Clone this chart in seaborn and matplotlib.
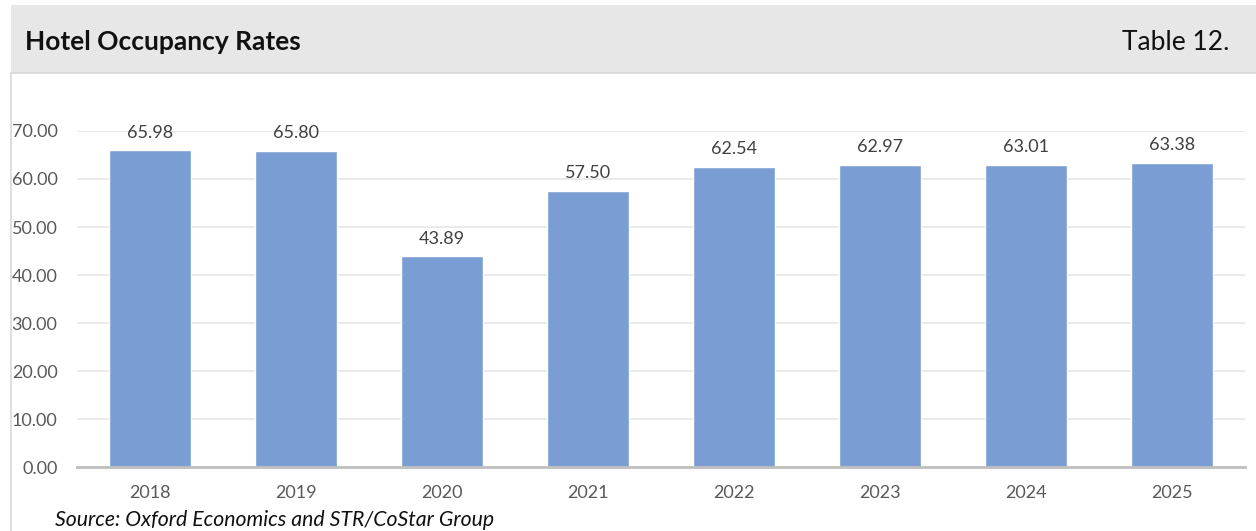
import matplotlib
matplotlib.use("Agg")
import matplotlib.pyplot as plt
from matplotlib.patches import Rectangle
from matplotlib.lines import Line2D
import seaborn as sns
import pandas as pd

years = ["2018", "2019", "2020", "2021", "2022", "2023", "2024", "2025"]
occupancy = [65.98, 65.80, 43.89, 57.50, 62.54, 62.97, 63.01, 63.38]
y_ticks = [0, 10, 20, 30, 40, 50, 60, 70]

sns.set_theme(style="white")
plt.rcParams["font.family"] = ["Lato", "DejaVu Sans"]

W, H = 1256, 531
fig = plt.figure(figsize=(W / 100, H / 100), dpi=100)
fig.patch.set_facecolor("white")

# header band and panel border
fig.patches.append(Rectangle((11 / W, 1 - 73 / H), 1 - 11 / W, 68 / H,
                             transform=fig.transFigure, facecolor="#e7e7e7",
                             edgecolor="none", zorder=0))
fig.lines.append(Line2D([11 / W, 11 / W], [0, 1 - 73 / H], transform=fig.transFigure,
                        color="#d9d9d9", lw=1.2))
fig.lines.append(Line2D([11 / W, 1], [1 - 73 / H, 1 - 73 / H], transform=fig.transFigure,
                        color="#d9d9d9", lw=1.2))

fig.text(25 / W, 1 - 42 / H, "Hotel Occupancy Rates", fontsize=19, fontweight="bold",
         color="#111111", va="center", ha="left")
fig.text(1229 / W, 1 - 42 / H, "Table 12.", fontsize=19, color="#111111",
         va="center", ha="right")

ax = fig.add_axes([77 / W, (H - 467) / H, (1245 - 77) / W, (467 - 131) / H])
df = pd.DataFrame({"year": years, "rate": occupancy})
sns.barplot(data=df, x="year", y="rate", color="#7a9dd4", saturation=1,
            width=0.555, ax=ax, zorder=3)

ax.set_ylim(0, 70)
ax.set_xlim(-0.5, len(years) - 0.5)
ax.set_yticks(y_ticks)
ax.set_yticklabels([f"{v:.2f}" for v in y_ticks])
ax.yaxis.grid(True, color="#e6e6e6", lw=1.2, zorder=0)
ax.set_axisbelow(True)
ax.set_xlabel("")
ax.set_ylabel("")
for side in ["left", "right", "top"]:
    ax.spines[side].set_visible(False)
ax.spines["bottom"].set_color("#bfbfbf")
ax.spines["bottom"].set_linewidth(2)
ax.spines["bottom"].set_zorder(4)
ax.tick_params(axis="both", length=0, labelsize=13, labelcolor="#595959")
ax.tick_params(axis="y", pad=14)
ax.tick_params(axis="x", pad=13)

for i, v in enumerate(occupancy):
    ax.annotate(f"{v:.2f}", (i, v), xytext=(0, 7), textcoords="offset points",
                ha="center", va="bottom", fontsize=13, color="#404040",
                annotation_clip=False)

fig.text(55 / W, 1 - 520 / H, "Source: Oxford Economics and STR/CoStar Group",
         fontsize=15.3, style="italic", color="#111111", va="center", ha="left")

fig.savefig("out.png", dpi=100)
